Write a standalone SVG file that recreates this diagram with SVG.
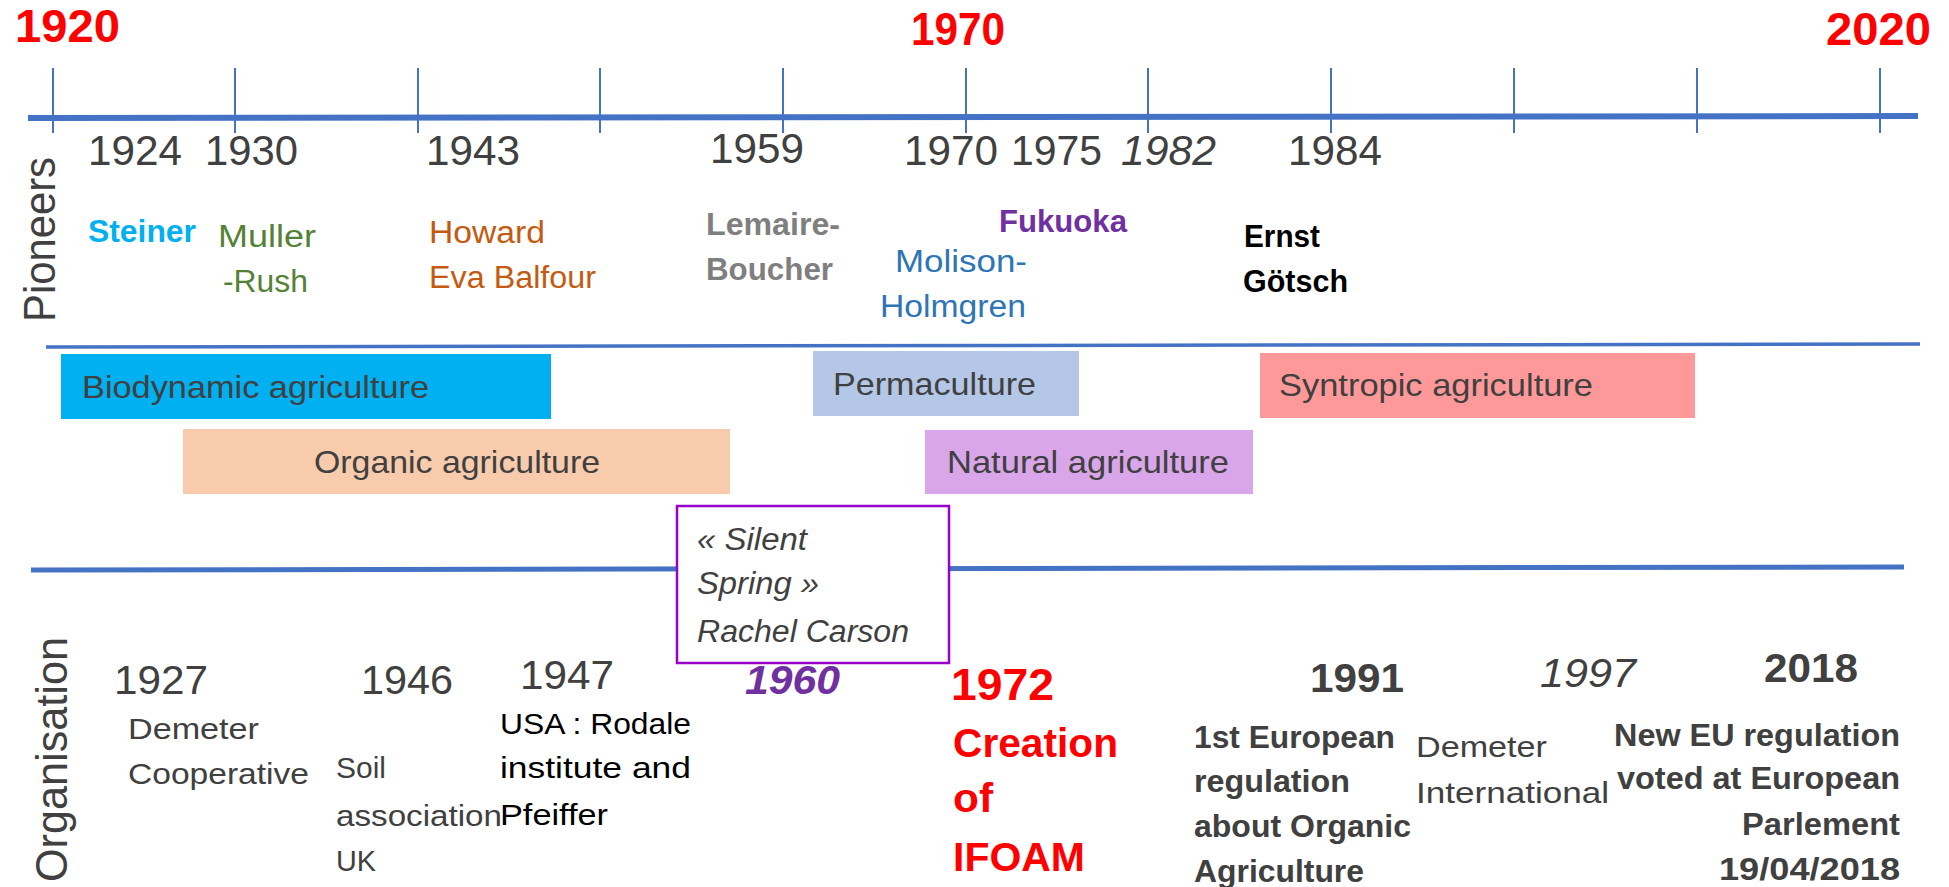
<svg xmlns="http://www.w3.org/2000/svg" width="1949" height="887" viewBox="0 0 1949 887">
<style>
text{font-family:"Liberation Sans",Arial,sans-serif;}
.yr{font-size:42px;fill:#404040;}
.red{font-size:47px;font-weight:bold;fill:#FF0000;}
.nm{font-size:31px;}
.b{font-weight:bold;}
.i{font-style:italic;}
.lbl{font-size:32px;fill:#404040;}
.ax{stroke:#4472C4;fill:none;}
.tick{stroke:#4472C4;stroke-width:2;}
</style>
<rect width="1949" height="887" fill="#FFFFFF"/>
<g id="connectors">
<line class="ax" x1="28" y1="118" x2="1918" y2="116" stroke-width="6"/>
<line class="ax" x1="46" y1="347" x2="1920" y2="344" stroke-width="3.5"/>
<line class="ax" x1="31" y1="570" x2="1904" y2="567" stroke-width="5"/>
<g id="ticks">
<line class="tick" x1="53" y1="68" x2="53" y2="133"/>
<line class="tick" x1="235" y1="68" x2="235" y2="133"/>
<line class="tick" x1="418" y1="68" x2="418" y2="133"/>
<line class="tick" x1="600" y1="68" x2="600" y2="133"/>
<line class="tick" x1="783" y1="68" x2="783" y2="133"/>
<line class="tick" x1="966" y1="68" x2="966" y2="133"/>
<line class="tick" x1="1148" y1="68" x2="1148" y2="133"/>
<line class="tick" x1="1331" y1="68" x2="1331" y2="133"/>
<line class="tick" x1="1514" y1="68" x2="1514" y2="133"/>
<line class="tick" x1="1697" y1="68" x2="1697" y2="133"/>
<line class="tick" x1="1880" y1="68" x2="1880" y2="133"/>
</g>
</g>
<g id="scale">
<text class="red" x="15" y="42" textLength="105" lengthAdjust="spacingAndGlyphs">1920</text>
<text class="red" x="911" y="45" textLength="94" lengthAdjust="spacingAndGlyphs">1970</text>
<text class="red" x="1826" y="45" textLength="105" lengthAdjust="spacingAndGlyphs">2020</text>
</g>
<g id="pioneer-years">
<text class="yr" x="88" y="165" textLength="94" lengthAdjust="spacingAndGlyphs">1924</text>
<text class="yr" x="205" y="165" textLength="93" lengthAdjust="spacingAndGlyphs">1930</text>
<text class="yr" x="426" y="165" textLength="94" lengthAdjust="spacingAndGlyphs">1943</text>
<text class="yr" x="710" y="163" textLength="94" lengthAdjust="spacingAndGlyphs">1959</text>
<text class="yr" x="904" y="165" textLength="94" lengthAdjust="spacingAndGlyphs">1970</text>
<text class="yr" x="1011" y="165" textLength="91" lengthAdjust="spacingAndGlyphs">1975</text>
<text class="yr i" x="1121" y="165" textLength="95" lengthAdjust="spacingAndGlyphs">1982</text>
<text class="yr" x="1288" y="165" textLength="94" lengthAdjust="spacingAndGlyphs">1984</text>
</g>
<text id="pioneers-label" transform="translate(55,322) rotate(-90)" x="0" y="0" font-size="44" fill="#404040" textLength="165" lengthAdjust="spacingAndGlyphs">Pioneers</text>
<text id="organisation-label" transform="translate(67,882) rotate(-90)" x="0" y="0" font-size="44" fill="#404040" textLength="245" lengthAdjust="spacingAndGlyphs">Organisation</text>
<g id="steiner"><text class="nm b" font-size="33" fill="#00B0F0" x="88" y="242" textLength="108" lengthAdjust="spacingAndGlyphs">Steiner</text></g>
<g id="muller-rush" class="nm" fill="#548235">
<text x="218" y="247" textLength="98" lengthAdjust="spacingAndGlyphs">Muller</text>
<text x="223" y="292" textLength="85" lengthAdjust="spacingAndGlyphs">-Rush</text>
</g>
<g id="howard-balfour" class="nm" fill="#C55A11">
<text x="429" y="243" textLength="116" lengthAdjust="spacingAndGlyphs">Howard</text>
<text x="429" y="288" textLength="167" lengthAdjust="spacingAndGlyphs">Eva Balfour</text>
</g>
<g id="lemaire-boucher" class="nm b" fill="#7F7F7F">
<text x="706" y="235" textLength="134" lengthAdjust="spacingAndGlyphs">Lemaire-</text>
<text x="706" y="280" textLength="127" lengthAdjust="spacingAndGlyphs">Boucher</text>
</g>
<g id="fukuoka"><text class="b" font-size="32" fill="#7030A0" x="999" y="232" textLength="128" lengthAdjust="spacingAndGlyphs">Fukuoka</text></g>
<g id="molison-holmgren" class="nm" fill="#2E75B6">
<text x="895" y="272" textLength="132" lengthAdjust="spacingAndGlyphs">Molison-</text>
<text x="880" y="317" textLength="146" lengthAdjust="spacingAndGlyphs">Holmgren</text>
</g>
<g id="gotsch" class="nm b" fill="#000000">
<text x="1244" y="247" textLength="76" lengthAdjust="spacingAndGlyphs">Ernst</text>
<text x="1243" y="292" textLength="105" lengthAdjust="spacingAndGlyphs">Götsch</text>
</g>
<g id="biodynamic">
<rect x="61" y="354" width="490" height="65" fill="#00B0F0"/>
<text class="lbl" x="82" y="398" textLength="347" lengthAdjust="spacingAndGlyphs">Biodynamic agriculture</text>
</g>
<g id="organic">
<rect x="183" y="429" width="547" height="65" fill="#F8CBAD"/>
<text class="lbl" x="314" y="473" textLength="286" lengthAdjust="spacingAndGlyphs">Organic agriculture</text>
</g>
<g id="permaculture">
<rect x="813" y="351" width="266" height="65" fill="#B4C7E7"/>
<text class="lbl" x="833" y="395" textLength="203" lengthAdjust="spacingAndGlyphs">Permaculture</text>
</g>
<g id="natural">
<rect x="925" y="430" width="328" height="64" fill="#DAA6EA"/>
<text class="lbl" x="947" y="473" textLength="282" lengthAdjust="spacingAndGlyphs">Natural agriculture</text>
</g>
<g id="syntropic">
<rect x="1260" y="353" width="435" height="65" fill="#FF9999"/>
<text class="lbl" x="1279" y="396" textLength="314" lengthAdjust="spacingAndGlyphs">Syntropic agriculture</text>
</g>
<g id="silent-spring">
<rect x="677" y="506" width="272" height="157" fill="#FFFFFF" stroke="#9900CC" stroke-width="2.5"/>
<g class="nm i" fill="#404040">
<text x="697" y="550" textLength="110" lengthAdjust="spacingAndGlyphs">« Silent</text>
<text x="697" y="594" textLength="122" lengthAdjust="spacingAndGlyphs">Spring »</text>
<text x="697" y="642" textLength="212" lengthAdjust="spacingAndGlyphs">Rachel Carson</text>
</g>
</g>
<g id="demeter-coop" fill="#404040">
<text font-size="40" x="114" y="694" textLength="94" lengthAdjust="spacingAndGlyphs">1927</text>
<text font-size="30" x="128" y="739" textLength="131" lengthAdjust="spacingAndGlyphs">Demeter</text>
<text font-size="30" x="128" y="784" textLength="181" lengthAdjust="spacingAndGlyphs">Cooperative</text>
</g>
<g id="soil-association" fill="#404040">
<text font-size="40" x="361" y="694" textLength="92" lengthAdjust="spacingAndGlyphs">1946</text>
<text font-size="30" x="336" y="778" textLength="50" lengthAdjust="spacingAndGlyphs">Soil</text>
<text font-size="30" x="336" y="826" textLength="166" lengthAdjust="spacingAndGlyphs">association</text>
<text font-size="30" x="336" y="871" textLength="40" lengthAdjust="spacingAndGlyphs">UK</text>
</g>
<g id="rodale">
<text font-size="40" fill="#404040" x="520" y="689" textLength="94" lengthAdjust="spacingAndGlyphs">1947</text>
<text font-size="30" fill="#000000" x="500" y="734" textLength="191" lengthAdjust="spacingAndGlyphs">USA : Rodale</text>
<text font-size="30" fill="#000000" x="500" y="778" textLength="191" lengthAdjust="spacingAndGlyphs">institute and</text>
<text font-size="30" fill="#000000" x="500" y="825" textLength="108" lengthAdjust="spacingAndGlyphs">Pfeiffer</text>
</g>
<g id="year-1960"><text class="b i" font-size="40" fill="#7030A0" x="745" y="694" textLength="95" lengthAdjust="spacingAndGlyphs">1960</text></g>
<g id="ifoam" class="b" fill="#FF0000">
<text font-size="45" x="951" y="700" textLength="103" lengthAdjust="spacingAndGlyphs">1972</text>
<text font-size="41" x="953" y="757" textLength="165" lengthAdjust="spacingAndGlyphs">Creation</text>
<text font-size="41" x="953" y="812" textLength="40" lengthAdjust="spacingAndGlyphs">of</text>
<text font-size="41" x="953" y="871" textLength="132" lengthAdjust="spacingAndGlyphs">IFOAM</text>
</g>
<g id="eu-1991" class="b" fill="#404040">
<text font-size="40" x="1310" y="692" textLength="94" lengthAdjust="spacingAndGlyphs">1991</text>
<text font-size="31" x="1194" y="748" textLength="201" lengthAdjust="spacingAndGlyphs">1st European</text>
<text font-size="31" x="1194" y="792" textLength="156" lengthAdjust="spacingAndGlyphs">regulation</text>
<text font-size="31" x="1194" y="837" textLength="217" lengthAdjust="spacingAndGlyphs">about Organic</text>
<text font-size="31" x="1194" y="882" textLength="170" lengthAdjust="spacingAndGlyphs">Agriculture</text>
</g>
<g id="demeter-intl" fill="#404040">
<text class="i" font-size="40" x="1540" y="687" textLength="96" lengthAdjust="spacingAndGlyphs">1997</text>
<text font-size="30" x="1416" y="757" textLength="131" lengthAdjust="spacingAndGlyphs">Demeter</text>
<text font-size="30" x="1416" y="803" textLength="193" lengthAdjust="spacingAndGlyphs">International</text>
</g>
<g id="eu-2018" class="b" fill="#404040">
<text font-size="40" x="1764" y="682" textLength="94" lengthAdjust="spacingAndGlyphs">2018</text>
<text font-size="31" x="1900" y="746" text-anchor="end" textLength="286" lengthAdjust="spacingAndGlyphs">New EU regulation</text>
<text font-size="31" x="1900" y="789" text-anchor="end" textLength="283" lengthAdjust="spacingAndGlyphs">voted at European</text>
<text font-size="31" x="1900" y="835" text-anchor="end" textLength="158" lengthAdjust="spacingAndGlyphs">Parlement</text>
<text font-size="31" x="1900" y="880" text-anchor="end" textLength="181" lengthAdjust="spacingAndGlyphs">19/04/2018</text>
</g>
</svg>
